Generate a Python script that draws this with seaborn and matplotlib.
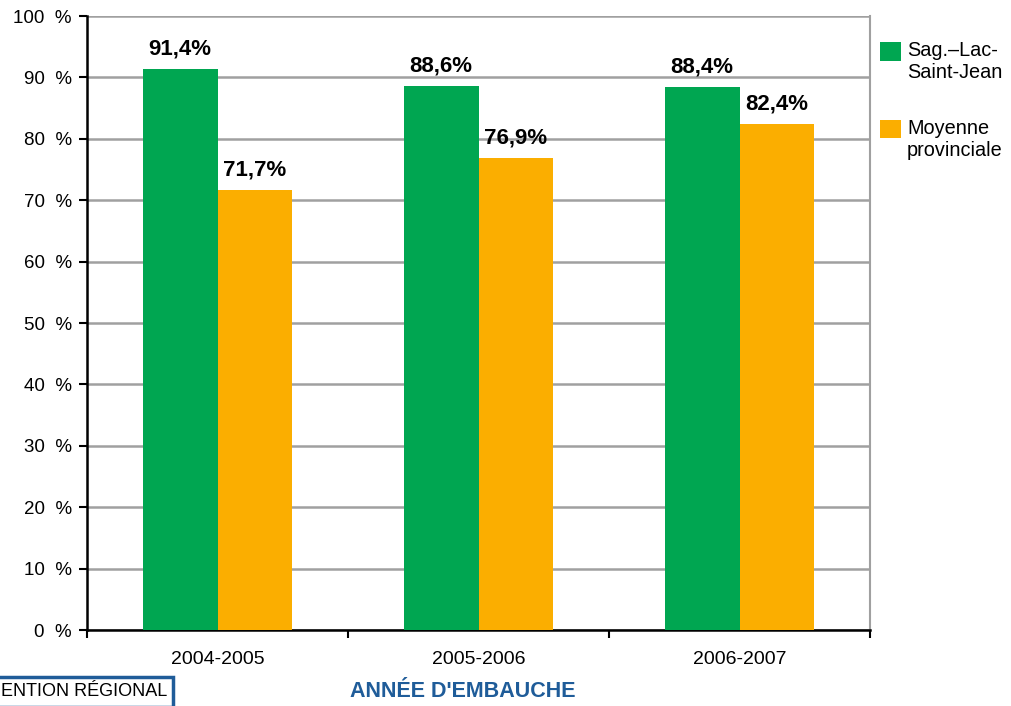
import numpy as np
import pandas as pd
import matplotlib
matplotlib.use("Agg")
import matplotlib.pyplot as plt
import seaborn as sns
from matplotlib.legend_handler import HandlerPatch
from matplotlib.patches import Rectangle

# Données
annees = ["2004-2005", "2005-2006", "2006-2007"]
series = ["Sag.\u2013Lac-\nSaint-Jean", "Moyenne\nprovinciale"]
sag_lac = [91.4, 88.6, 88.4]
moyenne_prov = [71.7, 76.9, 82.4]
couleurs = ["#00A651", "#FBAE00"]

df = pd.DataFrame({
    "annee": annees * 2,
    "serie": [series[0]] * 3 + [series[1]] * 3,
    "valeur": sag_lac + moyenne_prov,
})

sns.set_style("white")
plt.rcParams["font.family"] = ["Liberation Sans", "DejaVu Sans"]
plt.rcParams["text.color"] = "black"
plt.rcParams["xtick.color"] = "black"
plt.rcParams["ytick.color"] = "black"

fig = plt.figure(figsize=(10.12, 7.06), dpi=100)
ax = fig.add_axes([0.086, 0.1076, 0.7737, 0.8697])

sns.barplot(data=df, x="annee", y="valeur", hue="serie", palette=couleurs,
            width=0.574, saturation=1, linewidth=0, ax=ax, zorder=3)

# étiquettes au-dessus des barres
for cont in ax.containers:
    labels = [f"{v:.1f}%".replace(".", ",") for v in cont.datavalues]
    ax.bar_label(cont, labels=labels, padding=7, fontsize=16, fontweight="bold")

ax.set_ylim(0, 100)
ax.set_xlim(-0.5, 2.5)
ax.set_yticks(np.arange(0, 101, 10))
ax.set_yticklabels([f"{v}  %" for v in range(0, 101, 10)], fontsize=13.5)
ax.yaxis.grid(True, color="#A0A0A0", linewidth=1.8, zorder=0)
ax.set_axisbelow(True)

# ticks de l'axe x aux frontières des catégories
ax.set_xticks([-0.5, 0.5, 1.5, 2.5], minor=False)
ax.set_xticklabels([])
ax.set_xticks([0, 1, 2], minor=True)
ax.set_xticklabels(annees, minor=True, fontsize=14)
ax.tick_params(axis="x", which="minor", length=0, pad=15)
ax.tick_params(axis="x", which="major", length=6, width=1.5, color="black", direction="out")
ax.tick_params(axis="y", length=6, width=1.5, color="black", direction="out", pad=5)
ax.xaxis.set_ticks_position("bottom")
ax.yaxis.set_ticks_position("left")

for s in ["left", "bottom"]:
    ax.spines[s].set_color("black")
    ax.spines[s].set_linewidth(1.8)
ax.spines["top"].set_visible(False)
ax.spines["right"].set_color("#A0A0A0")
ax.spines["right"].set_linewidth(1.5)

ax.set_xlabel("")
ax.set_ylabel("")


# carré de légende aligné sur la première ligne du libellé
def carre(legend, orig_handle, xdescent, ydescent, width, height, fontsize):
    return Rectangle((-xdescent, -ydescent + 0.55 * fontsize), width, height)


leg = ax.legend(loc="upper left", bbox_to_anchor=(1.003, 0.972), frameon=False,
                fontsize=14.3, handlelength=1.05, handleheight=1.05, handletextpad=0.3,
                labelspacing=1.85, borderaxespad=0,
                handler_map={Rectangle: HandlerPatch(patch_func=carre)})

fig.text(0.457, 0.005, "ANNÉE D'EMBAUCHE", color="#1F5C99", fontsize=15.5,
         fontweight="bold", ha="center", va="bottom")
fig.text(0.165, 0.008, "ENTION RÉGIONAL", fontsize=13, ha="right", va="bottom",
         bbox=dict(boxstyle="square,pad=0.35", facecolor="white", edgecolor="#1F5C99", linewidth=2.5))

fig.savefig("out.png", dpi=100)
